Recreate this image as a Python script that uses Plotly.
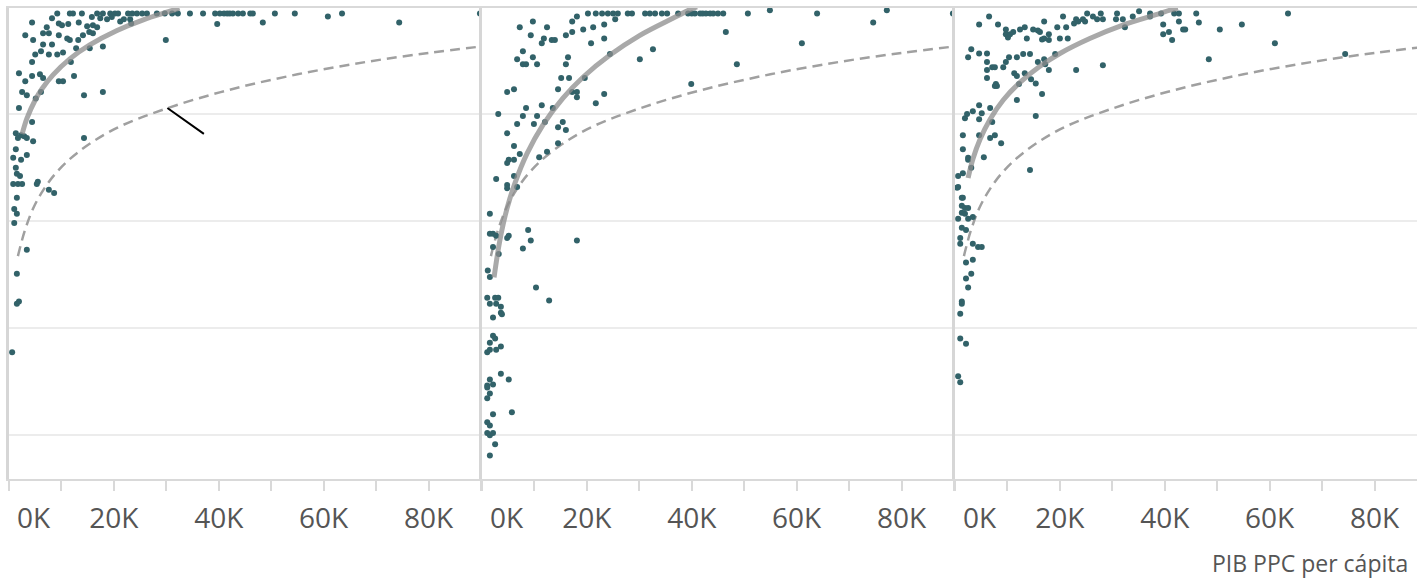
import plotly.graph_objects as go

# ---------------- data (GDP PPP per capita in thousands, indicator value) ----------------
p1_gdp_k = [
    9.2, 11.6, 12.2, 13.9, 16.8, 17.9, 19.3, 20.2, 20.8, 22.7, 23.5, 24.4, 25.4, 26.3, 28.2, 29.7, 31.1, 32.2,
    34.5, 37.0, 39.3, 40.2, 41.0, 41.6, 42.1, 42.7, 43.7, 44.6, 46.0, 46.5, 50.7, 54.5, 60.8, 63.5, 89.8,
    4.4, 8.2, 9.5, 10.1, 11.3, 13.3, 14.9, 15.8, 16.0, 16.8, 17.4, 18.7, 19.6, 21.2, 21.9, 23.1, 23.3,
    7.2, 6.5, 7.6, 3.1, 4.6, 6.5, 8.2, 9.5, 11.1, 11.6, 13.2, 14.1, 15.3, 16.0,
    6.1, 5.0, 7.6, 9.2, 10.3, 12.8, 15.4, 17.9, 29.9, 39.7, 48.4, 74.4,
    4.4, 11.8, 1.9, 4.4, 5.9, 6.5, 3.1, 9.5, 10.3, 12.4,
    2.5, 3.4, 5.1, 6.1, 14.3, 17.9,
    1.9, 4.4,
    1.3, 1.7, 2.3, 2.9, 3.4, 4.6, 14.3,
    1.3, 0.8, 2.3, 3.4,
    1.3, 1.5, 2.1,
    0.8, 1.7, 2.5, 5.3, 5.5,
    1.5, 7.6, 8.6,
    1.0, 1.5, 1.0,
    3.4, 1.5, 1.5, 1.9, 0.6,
]
p1_value = [
    98.9, 98.9, 98.9, 98.9, 98.9, 98.9, 98.9, 98.9, 98.9, 98.9, 98.9, 98.9, 98.9, 98.9, 98.9, 98.9, 98.9, 98.9,
    98.9, 98.9, 98.9, 98.9, 98.9, 98.9, 98.9, 98.9, 98.9, 98.9, 98.9, 98.9, 98.9, 98.9, 98.3, 98.9, 98.9,
    97.2, 98.0, 97.0, 96.7, 96.9, 97.2, 96.5, 98.2, 96.7, 96.3, 98.0, 97.8, 98.2, 97.4, 97.8, 97.8, 97.0,
    96.3, 95.2, 95.2, 94.8, 93.9, 93.1, 93.1, 94.8, 94.2, 93.9, 93.9, 94.8, 95.4, 95.2,
    91.8, 91.2, 91.2, 91.2, 91.6, 92.4, 92.4, 92.7, 93.9, 96.9, 97.2, 97.2,
    89.8, 89.8, 87.7, 87.2, 87.5, 86.8, 86.2, 86.2, 86.2, 87.2,
    84.2, 83.6, 83.0, 84.2, 83.6, 84.2,
    81.2, 78.6,
    76.5, 75.6, 76.1, 75.9, 75.6, 75.0, 75.6,
    73.5, 71.9, 71.5, 72.4,
    70.0, 68.9, 68.5,
    67.0, 67.0, 67.0, 67.0, 67.4,
    64.4, 65.9, 65.3,
    62.3, 61.4, 59.7,
    54.7, 50.2, 44.6, 45.0, 35.5,
]

p2_gdp_k = [
    20.2, 21.7, 22.9, 24.0, 25.0, 25.9, 27.8, 28.6, 31.1, 32.0, 33.0, 34.3, 35.3, 37.4, 39.3, 40.0, 40.6, 41.6,
    42.1, 42.7, 43.5, 44.1, 45.0, 46.0, 50.7, 54.9, 63.9, 77.2, 89.8,
    7.2, 9.7, 9.3, 12.4, 11.4, 11.8, 13.3, 13.9, 16.0, 17.2, 18.1, 17.2, 19.3, 21.2, 23.3, 25.4, 20.8, 23.3,
    6.7, 7.8, 7.8, 8.4, 9.7, 10.5, 16.4, 16.0, 24.4, 30.1, 32.6,
    15.1, 16.6, 14.5, 17.2, 18.1, 18.1, 19.6, 21.7, 23.3, 39.9, 4.8, 6.1,
    3.1, 8.4, 11.4, 13.5, 7.8, 10.5, 4.8, 6.7, 9.9, 12.0, 15.4, 14.5, 16.0,
    14.5, 6.1, 7.2, 10.9, 12.4, 4.8, 5.1, 6.1, 2.7, 6.1, 4.8, 4.8, 6.7,
    1.5, 1.5, 2.1, 2.7, 4.8, 5.1, 8.8, 9.3, 2.1, 7.8, 18.1, 3.2, 1.1, 1.5,
    10.3, 12.8, 1.0, 2.5, 3.1, 1.5, 2.7, 3.6, 3.6, 3.8, 2.1,
    2.1, 2.5, 1.5, 1.0, 1.5, 2.7, 3.6,
    3.6, 5.1, 1.5, 1.0, 2.1, 1.0, 1.5, 1.0,
    5.7, 2.1, 1.0, 1.5, 1.0, 1.5, 2.1, 2.5, 1.5,
    46.5, 61.0, 48.6, 74.6,
]
p2_value = [
    98.9, 98.9, 98.9, 98.9, 98.9, 98.9, 98.9, 98.9, 98.9, 98.9, 98.9, 98.9, 98.9, 98.9, 98.9, 98.9, 98.9, 98.9,
    98.9, 98.9, 98.9, 98.9, 98.9, 98.9, 98.9, 99.5, 98.9, 99.5, 98.9,
    96.3, 97.4, 94.8, 96.3, 93.3, 94.2, 93.9, 93.9, 94.8, 97.4, 98.3, 95.4, 95.9, 96.3, 96.8, 97.8, 93.3, 94.2,
    90.3, 91.8, 89.4, 89.4, 90.7, 89.4, 90.7, 89.4, 91.3, 90.3, 92.2,
    86.8, 86.8, 84.7, 84.2, 84.2, 83.2, 86.8, 82.1, 83.8, 85.7, 84.2, 84.7,
    80.1, 81.2, 81.7, 81.2, 79.7, 79.7, 76.5, 78.2, 78.2, 78.6, 78.6, 77.6, 77.1,
    74.6, 74.1, 72.6, 72.0, 73.0, 70.9, 71.5, 71.5, 67.9, 68.5, 66.8, 66.2, 66.4,
    61.4, 57.7, 57.7, 57.3, 56.9, 57.3, 58.4, 56.4, 55.2, 54.9, 56.4, 53.9, 50.8, 49.6,
    47.6, 45.2, 45.7, 45.7, 45.7, 44.6, 44.6, 44.0, 42.9, 42.6, 42.0,
    38.6, 38.1, 37.3, 35.5, 36.0, 36.0, 36.6,
    31.5, 30.4, 30.4, 29.3, 29.5, 28.9, 27.8, 26.9,
    24.3, 23.9, 22.4, 21.8, 20.4, 20.0, 20.4, 18.3, 16.2,
    95.4, 93.3, 89.4, 97.2,
]

p3_gdp_k = [
    6.5, 4.6, 8.2, 9.7, 9.7, 10.1, 10.5, 11.1, 12.4, 13.3, 13.7, 14.9, 15.8, 16.2, 17.0, 16.6, 17.0, 17.9, 17.9, 19.5,
    20.0, 20.6, 21.2, 21.5, 22.7, 23.1, 23.5, 24.4, 24.8, 25.2, 26.3, 27.1, 27.8, 28.2, 30.9, 30.7, 32.0, 32.4, 33.9, 35.1,
    37.2, 37.2, 39.3, 39.7, 39.7, 40.8, 41.4, 41.8, 42.7, 42.7, 43.5, 43.9,
    2.5, 3.1, 4.6, 6.1, 6.1, 6.1, 6.1, 7.1, 7.6, 7.8, 8.0, 7.6, 9.2, 9.7, 10.3, 11.8, 13.0, 14.3,
    11.3, 11.8, 13.3, 14.5, 12.2, 15.4, 15.8, 17.0, 17.2, 17.9, 19.1, 23.1, 28.2, 16.6, 11.8, 15.4,
    1.9, 2.3, 3.4, 4.6, 5.1, 6.7, 4.6, 7.1, 1.5, 1.5, 4.6, 6.7, 7.6, 8.8, 5.5, 2.5, 2.5, 3.1, 1.5, 0.6, 14.3, 0.4, 1.5,
    46.0, 46.5, 50.5, 54.7, 63.5, 61.0, 48.4, 74.4,
    0.6, 1.3, 1.3, 1.9, 2.5, 1.3, 1.9, 0.6, 2.5, 3.4, 1.3, 2.1, 1.0, 1.0, 3.4, 4.4, 5.1,
    2.1, 3.4, 3.1, 2.1, 2.5, 1.3, 1.3, 1.0, 1.0, 2.1, 0.6, 1.0,
]
p3_value = [
    98.3, 96.8, 96.8, 95.9, 95.0, 94.4, 95.0, 95.4, 95.9, 96.3, 94.2, 95.9, 95.7, 95.4, 97.4, 94.0, 94.2, 95.0, 93.9, 96.3,
    94.2, 98.3, 96.3, 94.2, 97.0, 97.8, 97.4, 97.8, 97.4, 98.9, 98.3, 97.8, 98.9, 97.8, 98.9, 97.8, 97.8, 96.3, 98.3, 99.3,
    98.9, 98.3, 98.9, 96.8, 95.0, 95.4, 93.9, 98.9, 98.9, 97.4, 95.9, 95.9,
    90.7, 92.2, 91.4, 91.4, 89.8, 88.3, 86.8, 88.8, 88.8, 85.7, 85.3, 85.3, 88.8, 89.8, 90.7, 90.7, 91.3, 91.3,
    87.7, 87.2, 87.7, 86.6, 85.7, 85.8, 89.8, 90.3, 89.4, 88.3, 91.3, 88.3, 89.2, 83.8, 82.7, 79.7,
    79.3, 80.1, 80.6, 81.7, 80.2, 81.2, 79.1, 78.6, 76.1, 73.5, 76.1, 75.6, 76.1, 74.6, 72.0, 71.9, 71.5, 70.0, 69.0, 68.5, 69.6, 66.3, 64.4,
    98.9, 97.2, 95.9, 96.8, 98.9, 93.3, 90.3, 91.3,
    66.4, 64.4, 62.9, 62.5, 62.5, 61.6, 61.4, 60.5, 60.5, 60.8, 58.8, 58.4, 56.9, 55.8, 55.8, 55.2, 55.2,
    52.3, 52.8, 50.2, 49.3, 47.6, 45.0, 44.6, 42.7, 38.1, 37.1, 31.0, 29.9,
]

# trend curves (solid = panel trend, dashed = common reference)
p1_trend_x = [2.5, 3.4, 5.0, 6.3, 8.4, 11.6, 15.4, 20.6, 25.6, 30.7, 32.5]
p1_trend_y = [76.3, 79.2, 82.7, 84.8, 87.4, 90.4, 93.0, 95.7, 97.7, 99.3, 99.9]
p2_trend_x = [2.3, 3.4, 4.8, 6.3, 8.6, 11.6, 15.4, 19.3, 24.4, 30.1, 36.4, 39.7, 41.0]
p2_trend_y = [49.5, 56.4, 62.5, 67.2, 72.7, 78.0, 83.0, 87.0, 91.1, 94.8, 98.0, 99.6, 100.1]
p3_trend_x = [2.5, 3.4, 4.8, 6.7, 9.2, 12.4, 16.2, 20.0, 25.7, 32.0, 38.5, 41.0, 42.5]
p3_trend_y = [68.1, 71.6, 75.4, 79.1, 82.7, 86.0, 89.0, 91.4, 94.2, 96.7, 98.7, 99.5, 99.9]
ref_x = [1.7, 3.0, 4.6, 6.5, 9.0, 13.0, 20.0, 30.0, 42.0, 55.0, 68.0, 80.0, 90.0]
ref_y = [53.5, 58.2, 62.4, 65.8, 69.1, 72.8, 77.2, 81.1, 84.6, 87.5, 89.8, 91.5, 92.7]

tick_vals = [0, 10, 20, 30, 40, 50, 60, 70, 80, 90]
tick_text = ["", "", "20K", "", "40K", "", "60K", "", "80K", ""]
x_title = "PIB PPC per cápita"

# ---------------- figure ----------------
W, H = 1417, 580
FONT = "Open Sans"
DOT = "#326269"
GRID = "#ececec"
LINE = "#d9d9d9"
TXT = "#555555"

panels = [
    (p1_gdp_k, p1_value, p1_trend_x, p1_trend_y, (9, 481), 90.0),
    (p2_gdp_k, p2_value, p2_trend_x, p2_trend_y, (482, 955), 90.2),
    (p3_gdp_k, p3_value, p3_trend_x, p3_trend_y, (955, 1417), 88.1),
]
ydom = [1 - 479 / H, 1 - 7.5 / H]

fig = go.Figure()
layout = dict(
    width=W, height=H, margin=dict(l=0, r=0, t=0, b=0),
    paper_bgcolor="white", plot_bgcolor="white", showlegend=False,
    font=dict(family=FONT, color=TXT),
)
annotations = []
for i, (gx, gv, tx, ty, (px0, px1), xmax) in enumerate(panels, start=1):
    xa = "x" if i == 1 else f"x{i}"
    ya = "y" if i == 1 else f"y{i}"
    fig.add_trace(go.Scatter(x=ref_x, y=ref_y, mode="lines", xaxis=xa, yaxis=ya,
                             line=dict(color="#a0a0a0", width=2.5, dash="10px,6px", shape="spline"),
                             hoverinfo="skip"))
    fig.add_trace(go.Scatter(x=gx, y=gv, mode="markers", xaxis=xa, yaxis=ya,
                             marker=dict(color=DOT, size=6, line=dict(width=0))))
    fig.add_trace(go.Scatter(x=tx, y=ty, mode="lines", xaxis=xa, yaxis=ya,
                             line=dict(color="rgba(140,140,140,0.75)", width=5, shape="spline"),
                             hoverinfo="skip"))
    layout["xaxis" if i == 1 else f"xaxis{i}"] = dict(
        domain=[px0 / W, px1 / W], range=[0, xmax], anchor=ya,
        tickvals=tick_vals, ticktext=tick_text, ticks="outside", ticklen=10, tickwidth=2,
        tickcolor=LINE, showline=True, linecolor=LINE, linewidth=2, mirror=True,
        showgrid=False, zeroline=False, tickfont=dict(size=28, color=TXT, family=FONT),
        ticklabelstandoff=3,
    )
    layout["yaxis" if i == 1 else f"yaxis{i}"] = dict(
        domain=ydom, range=[11.8, 100], anchor=xa,
        tickvals=[20, 40, 60, 80], showticklabels=False, ticks="",
        showgrid=True, gridcolor=GRID, gridwidth=2,
        showline=True, linecolor="#d6d6d6", linewidth=3, zeroline=False,
    )
    annotations.append(dict(xref=xa, yref="paper", x=0, y=1 - 517 / H, text="0K",
                            showarrow=False, xshift=25, xanchor="center", yanchor="middle",
                            font=dict(size=28, color=TXT, family=FONT)))

annotations.append(dict(xref="paper", yref="paper", x=1410 / W, y=1 - 563 / H, text=x_title,
                        showarrow=False, xanchor="right", yanchor="middle",
                        font=dict(size=23, color=TXT, family=FONT)))
annotations.append(dict(xref="x", yref="y", x=30.2, y=81.2, text="", showarrow=True,
                        arrowhead=0, arrowwidth=2, arrowcolor="black", ax=38, ay=27, standoff=0))
layout["annotations"] = annotations
fig.update_layout(**layout)
fig.write_html("out.html", config={"displayModeBar": False},
               post_script="document.body.style.margin='0px';document.body.style.overflow='hidden';")
